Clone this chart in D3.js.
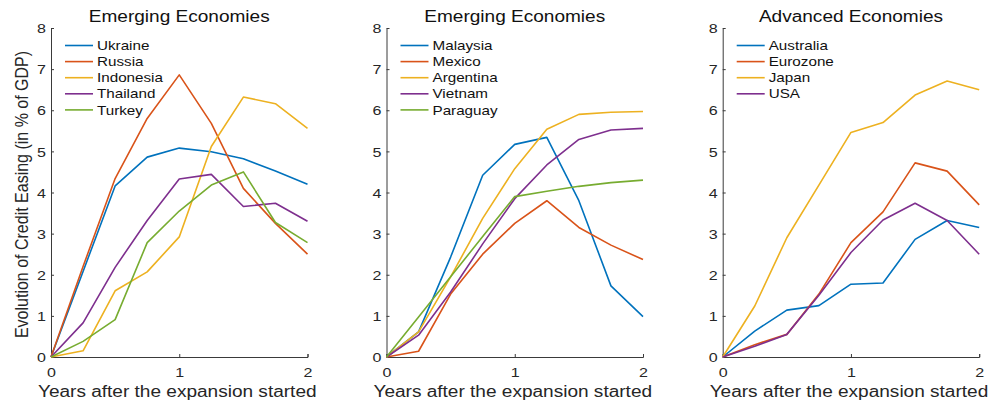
<!DOCTYPE html>
<html>
<head>
<meta charset="utf-8">
<script src="https://cdn.jsdelivr.net/npm/d3@7"></script>
<style>
  body { margin: 0; background: #fff; }
  svg { display: block; font-family: "Liberation Sans", Arial, sans-serif; }
  .axis path, .axis line { stroke: #3a3a3a; }
  .axis text { fill: #262626; }
</style>
</head>
<body>
<svg id="chart" width="992" height="402"></svg>
<script>
// years after the expansion started
const years = [0, 0.25, 0.5, 0.75, 1, 1.25, 1.5, 1.75, 2];
const yTicks = [0, 1, 2, 3, 4, 5, 6, 7, 8];
const xTicks = [0, 1, 2];

const panelTitles = ['Emerging Economies', 'Emerging Economies', 'Advanced Economies'];

const names1 = ['Ukraine', 'Russia', 'Indonesia', 'Thailand', 'Turkey'];
const ukraine = [0, 2.08, 4.16, 4.86, 5.08, 4.99, 4.82, 4.52, 4.2];
const russia = [0, 2.2, 4.34, 5.8, 6.86, 5.68, 4.1, 3.25, 2.5];
const indonesia = [0, 0.15, 1.61, 2.07, 2.92, 5.12, 6.32, 6.16, 5.56];
const thailand = [0, 0.83, 2.18, 3.32, 4.33, 4.44, 3.66, 3.74, 3.3];
const turkey = [0, 0.38, 0.91, 2.78, 3.55, 4.18, 4.5, 3.27, 2.78];

const names2 = ['Malaysia', 'Mexico', 'Argentina', 'Vietnam', 'Paraguay'];
const malaysia = [0, 0.61, 2.43, 4.42, 5.17, 5.34, 3.8, 1.73, 0.98];
const mexico = [0, 0.14, 1.53, 2.5, 3.25, 3.8, 3.15, 2.72, 2.37];
const argentina = [0, 0.61, 1.95, 3.37, 4.58, 5.54, 5.9, 5.95, 5.97];
const vietnam = [0, 0.53, 1.58, 2.75, 3.85, 4.67, 5.29, 5.52, 5.56];
const paraguay = [0, 0.97, 1.95, 2.93, 3.9, 4.03, 4.15, 4.24, 4.3];

const names3 = ['Australia', 'Eurozone', 'Japan', 'USA'];
const australia = [0, 0.63, 1.14, 1.25, 1.77, 1.8, 2.86, 3.32, 3.15];
const eurozone = [0, 0.3, 0.55, 1.53, 2.78, 3.53, 4.72, 4.52, 3.7];
const japan = [0, 1.24, 2.9, 4.18, 5.46, 5.7, 6.37, 6.71, 6.5];
const usa = [0, 0.26, 0.55, 1.5, 2.54, 3.33, 3.74, 3.32, 2.5];

const colors = ['#0072BD', '#D95319', '#EDB120', '#7E2F8E', '#77AC30'];

const panels = [
  { title: panelTitles[0], names: names1, series: [ukraine, russia, indonesia, thailand, turkey] },
  { title: panelTitles[1], names: names2, series: [malaysia, mexico, argentina, vietnam, paraguay] },
  { title: panelTitles[2], names: names3, series: [australia, eurozone, japan, usa] },
];

// text in the picture is stretched sideways
const sx = 1.19;
const plotTop = 28, plotBottom = 357;
const lefts = [51, 386.5, 722.7];
const plotW = 256.5;

const svg = d3.select('#chart');

const y = d3.scaleLinear().domain([0, 8]).range([plotBottom, plotTop]);

panels.forEach((p, pi) => {
  const x = d3.scaleLinear().domain([0, 2]).range([lefts[pi], lefts[pi] + plotW]);
  const g = svg.append('g');

  // axes
  const xAxis = g.append('g')
    .attr('class', 'axis')
    .attr('transform', `translate(0,${plotBottom})`)
    .call(d3.axisBottom(x).tickValues(xTicks).tickFormat(d3.format('d')).tickSizeInner(-3).tickSizeOuter(-3));
  xAxis.select('.domain').attr('stroke-width', 1);
  xAxis.selectAll('text')
    .attr('font-size', 13.5)
    .attr('y', 0).attr('dy', 0)
    .attr('transform', `translate(0,20) scale(${sx},1)`);

  const yAxis = g.append('g')
    .attr('class', 'axis')
    .attr('transform', `translate(${lefts[pi]},0)`)
    .call(d3.axisLeft(y).tickValues(yTicks).tickSizeInner(-3).tickSizeOuter(0));
  yAxis.selectAll('text')
    .attr('font-size', 13.5)
    .attr('x', 0).attr('dy', '0.35em')
    .attr('transform', `translate(-5,0) scale(${sx},1)`);

  // lines
  const line = d3.line()
    .x((d, i) => x(years[i]))
    .y((d) => y(d));

  p.series.forEach((s, si) => {
    g.append('path')
      .datum(s)
      .attr('fill', 'none')
      .attr('stroke', colors[si])
      .attr('stroke-width', 1.6)
      .attr('stroke-linejoin', 'round')
      .attr('d', line);
  });

  // title
  g.append('text')
    .attr('transform', `translate(${lefts[pi] + plotW / 2},21.5) scale(${sx},1)`)
    .attr('text-anchor', 'middle')
    .attr('font-size', 16)
    .attr('fill', '#111')
    .text(p.title);

  // x label
  g.append('text')
    .attr('transform', `translate(${lefts[pi] + plotW / 2 - 2},396.5) scale(${sx},1)`)
    .attr('text-anchor', 'middle')
    .attr('font-size', 16)
    .attr('fill', '#262626')
    .text('Years after the expansion started');

  // legend
  const lg = g.append('g').attr('transform', `translate(${lefts[pi] + 14},0)`);
  p.names.forEach((n, ni) => {
    const ly = 45.5 + ni * 16.1;
    lg.append('line')
      .attr('x1', 0).attr('x2', 28)
      .attr('y1', ly).attr('y2', ly)
      .attr('stroke', colors[ni])
      .attr('stroke-width', 1.6);
    lg.append('text')
      .attr('transform', `translate(32,${ly + 4.6}) scale(${sx},1)`)
      .attr('font-size', 12.8)
      .attr('fill', '#111')
      .text(n);
  });
});

// y label (shared, left panel only)
svg.append('text')
  .attr('transform', `translate(27.5,194.5) scale(${sx},1) rotate(-90)`)
  .attr('text-anchor', 'middle')
  .attr('font-size', 16)
  .attr('fill', '#262626')
  .text('Evolution of Credit Easing (in % of GDP)');
</script>
</body>
</html>
